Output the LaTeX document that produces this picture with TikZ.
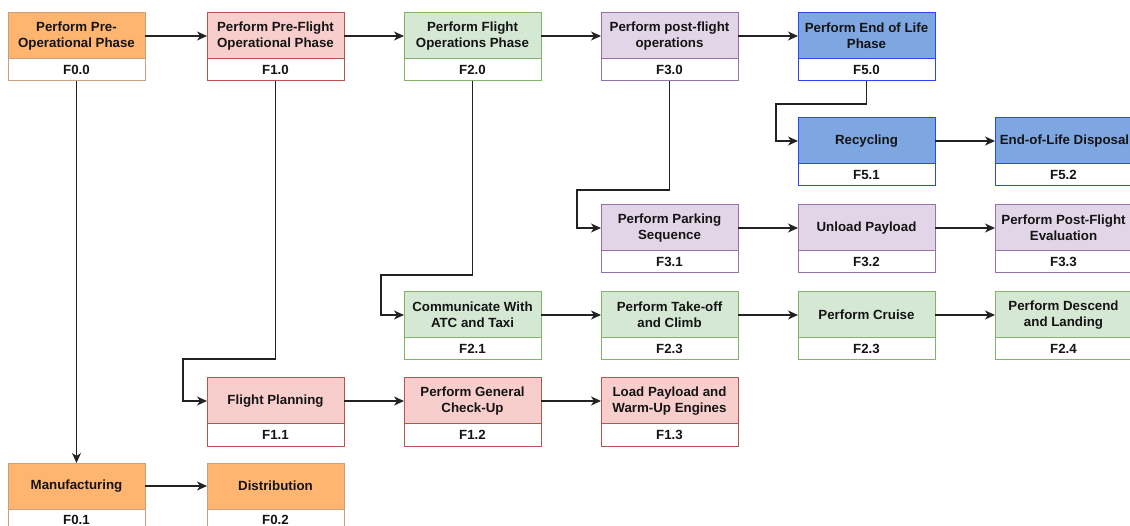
\documentclass[tikz,border=0pt]{standalone}
\usepackage{fontspec}
\setmainfont{Liberation Sans}
\usetikzlibrary{arrows.meta}

% phase colours (fill / border)
\definecolor{orF}{HTML}{FFB570}\definecolor{orD}{HTML}{C9A07C}
\definecolor{rdF}{HTML}{F8CECC}\definecolor{rdD}{HTML}{B85450}
\definecolor{grF}{HTML}{D5E8D4}\definecolor{grD}{HTML}{82B366}
\definecolor{puF}{HTML}{E1D5E7}\definecolor{puD}{HTML}{9673A6}
\definecolor{blF}{HTML}{7EA6E0}\definecolor{blD}{HTML}{2D46F5}
\definecolor{wire}{HTML}{222222}

\tikzset{
  x=1pt, y=-1pt,
  head/.style={rectangle, minimum width=137pt, minimum height=46pt,
    inner sep=0pt, outer sep=0pt, line width=1pt, align=center,
    font=\fontsize{13.3}{16}\selectfont\bfseries, text=black!92},
  idbox/.style={head, minimum height=22pt, fill=white},
  orange/.style={draw=orD, fill=orF},
  red/.style={draw=rdD, fill=rdF},
  green/.style={draw=grD, fill=grF},
  purple/.style={draw=puD, fill=puF},
  blue/.style={draw=blD, fill=blF},
  arr/.style={draw=wire, line width=1.2pt,
    -{Stealth[length=10pt,width=9pt,inset=3pt]}},
}

% function block: name, left x, top y, colour style, title, identifier
\newcommand\fblock[6]{%
  \node[head,#4] (#1) at (#2+68.5,#3+23) {#5};
  \node[#4,idbox,anchor=north] (#1id) at (#1.south) {#6};
}

\begin{document}
\begin{tikzpicture}
\clip (0,0) rectangle (1130,526);
\fill[white] (0,0) rectangle (1130,526);

% top row: phases
\fblock{f00}{8}{13}{orange}{Perform Pre-\\Operational Phase}{F0.0}
\fblock{f10}{207}{13}{red}{Perform Pre-Flight\\Operational Phase}{F1.0}
\fblock{f20}{404}{13}{green}{Perform Flight\\Operations Phase}{F2.0}
\fblock{f30}{601}{13}{purple}{Perform post-flight\\operations}{F3.0}
\fblock{f50}{798}{13}{blue}{Perform End of Life\\Phase}{F5.0}

% end of life
\fblock{f51}{798}{118}{blue}{Recycling}{F5.1}
\fblock{f52}{995}{118}{blue}{\hspace*{2pt}End-of-Life Disposal}{F5.2}

% post-flight
\fblock{f31}{601}{205}{purple}{Perform Parking\\Sequence}{F3.1}
\fblock{f32}{798}{205}{purple}{Unload Payload}{F3.2}
\fblock{f33}{995}{205}{purple}{Perform Post-Flight\\Evaluation}{F3.3}

% flight operations
\fblock{f21}{404}{292}{green}{Communicate With\\ATC and Taxi}{F2.1}
\fblock{f22}{601}{292}{green}{Perform Take-off\\and Climb}{F2.3}
\fblock{f23}{798}{292}{green}{Perform Cruise}{F2.3}
\fblock{f24}{995}{292}{green}{Perform Descend\\and Landing}{F2.4}

% pre-flight
\fblock{f11}{207}{378}{red}{Flight Planning}{F1.1}
\fblock{f12}{404}{378}{red}{Perform General\\Check-Up}{F1.2}
\fblock{f13}{601}{378}{red}{Load Payload and\\Warm-Up Engines}{F1.3}

% pre-operational
\fblock{f01}{8}{463}{orange}{Manufacturing}{F0.1}
\fblock{f02}{207}{463}{orange}{Distribution}{F0.2}

% elbow bends of the branch connectors
\coordinate (k1) at (183,359);
\coordinate (k2) at (381,275);
\coordinate (k3) at (577,190);
\coordinate (k5) at (776,104);

% phase sequence
\draw[arr] (f00.east) -- (f10.west);
\draw[arr] (f10.east) -- (f20.west);
\draw[arr] (f20.east) -- (f30.west);
\draw[arr] (f30.east) -- (f50.west);

% branches down to first sub-functions
\draw[arr] (f00id.south) -- (f01.north);
\draw[arr] (f10id.south) |- (k1) |- (f11.west);
\draw[arr] (f20id.south) |- (k2) |- (f21.west);
\draw[arr] (f30id.south) |- (k3) |- (f31.west);
\draw[arr] (f50id.south) |- (k5) |- (f51.west);

% sub-function sequences
\draw[arr] (f01.east) -- (f02.west);
\draw[arr] (f11.east) -- (f12.west);
\draw[arr] (f12.east) -- (f13.west);
\draw[arr] (f21.east) -- (f22.west);
\draw[arr] (f22.east) -- (f23.west);
\draw[arr] (f23.east) -- (f24.west);
\draw[arr] (f31.east) -- (f32.west);
\draw[arr] (f32.east) -- (f33.west);
\draw[arr] (f51.east) -- (f52.west);
\end{tikzpicture}
\end{document}
